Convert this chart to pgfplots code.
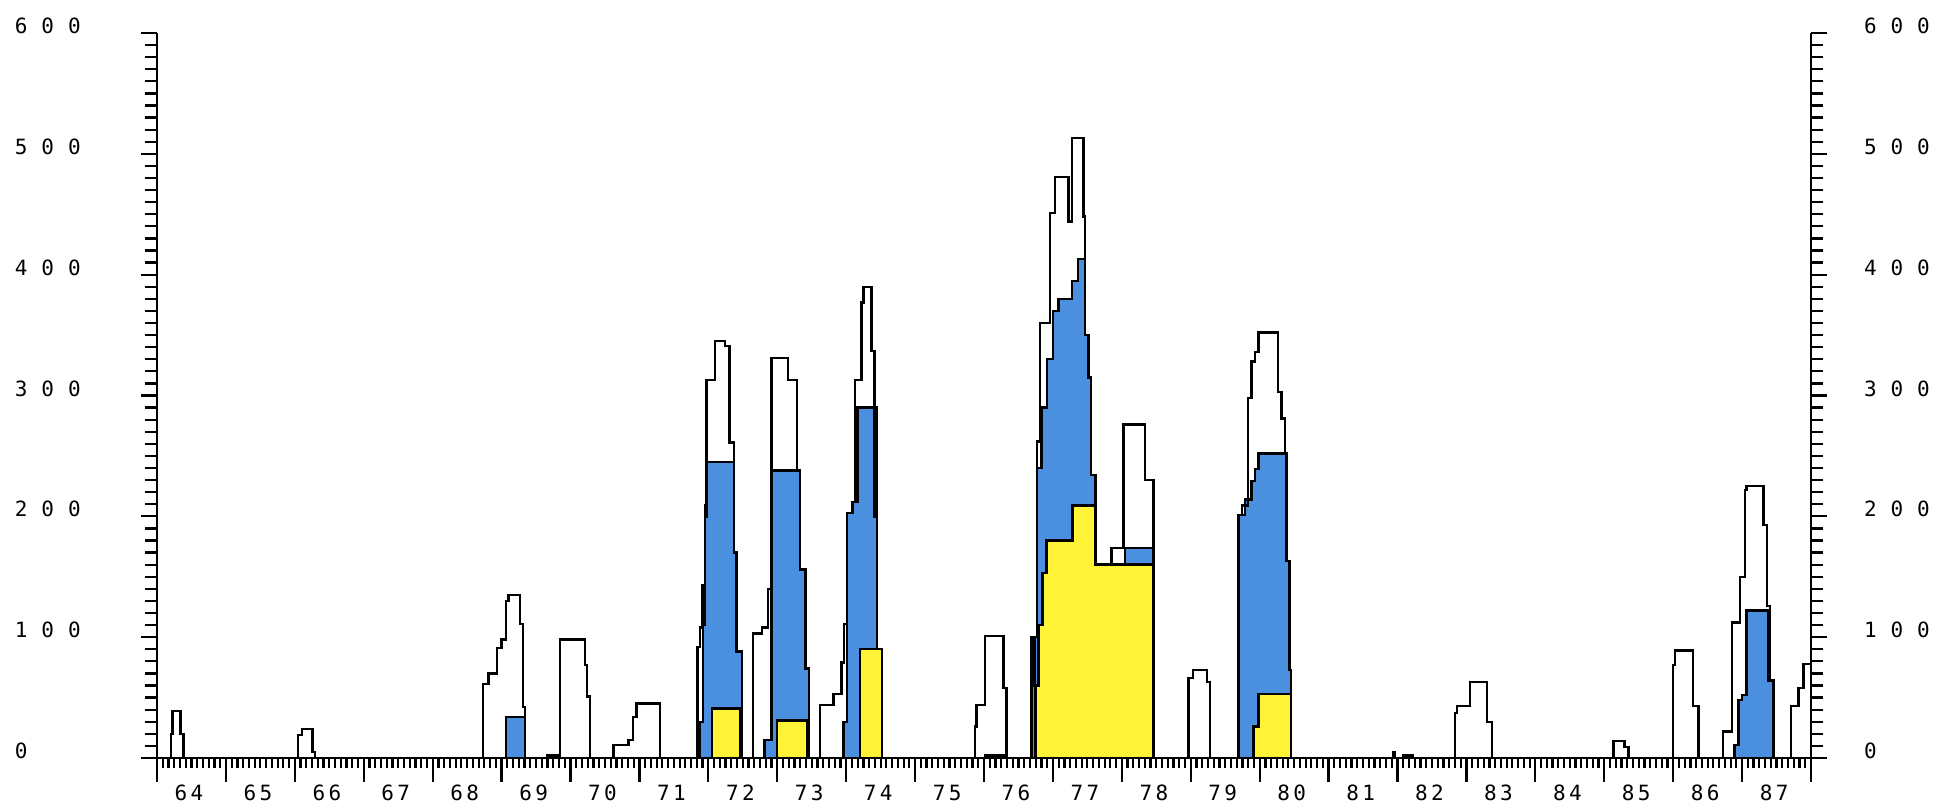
\documentclass[border=0pt]{standalone}
\usepackage{fontspec}
\usepackage{pgfplots}
\pgfplotsset{compat=1.18}
\newfontfamily\yfont[LetterSpace=66]{DejaVu Sans Mono}
\newfontfamily\xfont[LetterSpace=16]{DejaVu Sans Mono}
\definecolor{pblue}{RGB}{74,144,222}
\definecolor{pyellow}{RGB}{255,243,56}
\begin{document}
\begin{tikzpicture}
\pgfplotsset{
  common/.style={
    scale only axis, width=827pt, height=362.5pt,
    xmin=0, xmax=288, ymin=0, ymax=600,
    axis line style={line width=1.3pt, black},
    tick style={line width=1.1pt, black},
    tick align=outside,
  },
  ycommon/.style={
    major tick length=8pt, minor tick length=6pt,
    ytick={0,100,...,600}, minor y tick num=9,
    yticklabels={0,100,200,300,400,500,600},
    yticklabel style={font=\yfont\fontsize{10.5}{11}\selectfont, inner sep=0pt, outer sep=0pt, anchor=west},
  }
}
% axis 1: data + left y axis
\begin{axis}[common, ycommon, axis y line*=left, axis x line*=bottom,
  xtick=\empty,
  yticklabel style={xshift=-63pt, yshift=3.5pt},
  clip=false]
\coordinate (BL) at (rel axis cs:0,0);
\coordinate (TR) at (rel axis cs:1,1);
% blue subset
\addplot[const plot mark left, fill=pblue, draw=black, line width=1.2pt] coordinates {
(0,0)
(60.8,34) (64.1,0)
(94.6,30) (95.1,110) (95.4,200) (95.7,245) (100.5,170) (100.9,88) (101.9,0)
(105.8,15) (107.0,238) (112.0,156) (112.9,74) (113.5,0)
(119.5,30) (120.1,203) (121.2,212) (122.0,290) (124.9,200) (125.4,90) (126.2,0)
(152.3,60) (152.8,100) (153.2,240) (154.0,290) (155.0,330) (156.0,370) (157.0,380) (159.3,395) (160.4,413) (161.6,350) (162.2,315) (162.6,234) (163.4,160) (168.5,174) (173.5,0)
(188.3,201) (189.4,214) (190.6,229) (191.2,239) (191.8,252) (196.7,163) (197.2,73) (197.5,0)
(274.7,11) (275.4,48) (276.0,52) (276.8,122) (280.6,64) (281.5,0)
(288,0)
} \closedcycle;
% yellow subset
\addplot[const plot mark left, fill=pyellow, draw=black, line width=1.2pt] coordinates {
(0,0)
(96.6,41) (101.5,0)
(108.0,31) (113.3,0)
(122.4,90) (126.2,0)
(144.2,2) (147.4,0)
(153.0,60) (153.5,110) (154.2,153) (154.9,180) (159.4,209) (163.4,160) (173.5,0)
(190.9,26) (191.8,53) (197.5,0)
(288,0)
} \closedcycle;
% total
\addplot[const plot mark left, draw=black, line width=1.2pt] coordinates {
(0,0)
(2.4,20) (2.7,39) (4.1,20) (4.6,0)
(24.6,19) (25.2,24) (27.1,5) (27.5,0)
(56.8,61) (57.7,70) (59.2,91) (60.0,98) (60.8,130) (61.2,135) (63.2,111) (63.7,42) (64.1,0)
(67.9,2) (70.2,98) (74.5,77) (74.9,51) (75.4,0)
(79.5,11) (82.1,15) (82.9,34) (83.5,45) (87.6,0)
(94.1,92) (94.6,108) (95.0,143) (95.4,209) (95.7,313) (97.2,345) (98.9,341) (99.7,261) (100.5,170) (100.9,88) (101.9,0)
(103.8,103) (105.3,108) (106.4,140) (107.0,331) (109.9,313) (111.4,238) (112.0,156) (112.9,74) (113.5,0)
(115.4,44) (117.8,53) (119.2,79) (119.6,111) (120.1,203) (121.0,212) (121.5,313) (122.7,377) (123.0,390) (124.4,337) (124.9,290) (125.4,90) (126.2,0)
(142.4,26) (142.7,44) (144.2,101) (147.4,58) (147.9,0)
(152.3,100) (153.2,262) (153.8,360) (155.5,451) (156.4,481) (158.7,444) (159.3,513) (161.3,448) (161.6,350) (162.2,315) (162.6,234) (163.4,160) (166.2,174) (168.3,276) (172.0,230) (173.5,0)
(179.6,66) (180.4,73) (182.8,63) (183.4,0)
(188.3,201) (188.9,209) (190.0,298) (190.6,328) (191.2,336) (191.8,352) (195.2,303) (195.8,281) (196.4,252) (196.7,163) (197.2,73) (197.5,0)
(215.3,5) (215.6,0) (217.0,2) (218.7,0)
(226.0,37) (226.4,43) (228.6,63) (231.6,30) (232.4,0)
(253.6,14) (255.5,9) (256.2,0)
(264.0,77) (264.3,89) (267.5,43) (268.4,0)
(272.7,22) (274.2,112) (275.6,150) (276.5,222) (276.8,225) (279.7,193) (280.3,126) (280.9,64) (281.5,0)
(284.5,43) (285.8,58) (286.7,78) (288,78)
};
\end{axis}
% axis 2: right y axis
\begin{axis}[common, ycommon, axis y line*=right, axis x line=none,
  xtick=\empty,
  yticklabel style={xshift=18.5pt, yshift=3.5pt}]
\end{axis}
% axis 3: x ticks and year labels
\begin{axis}[common, axis y line=none, axis x line*=bottom, ytick=\empty,
  major tick length=12pt, minor tick length=5pt,
  xtick={0,12,...,288},
  minor xtick={1,...,287},
  xticklabels={64,65,66,67,68,69,70,71,72,73,74,75,76,77,78,79,80,81,82,83,84,85,86,87,{}},
  xticklabel style={font=\xfont\fontsize{10.5}{11}\selectfont, inner sep=0pt, outer sep=0pt, anchor=center, xshift=16pt, yshift=-5.5pt}]
\end{axis}
\pgfresetboundingbox
\useasboundingbox ([shift={(-78.5pt,-26.5pt)}]BL) rectangle ([shift={(65.5pt,16.5pt)}]TR);
\end{tikzpicture}
\end{document}
